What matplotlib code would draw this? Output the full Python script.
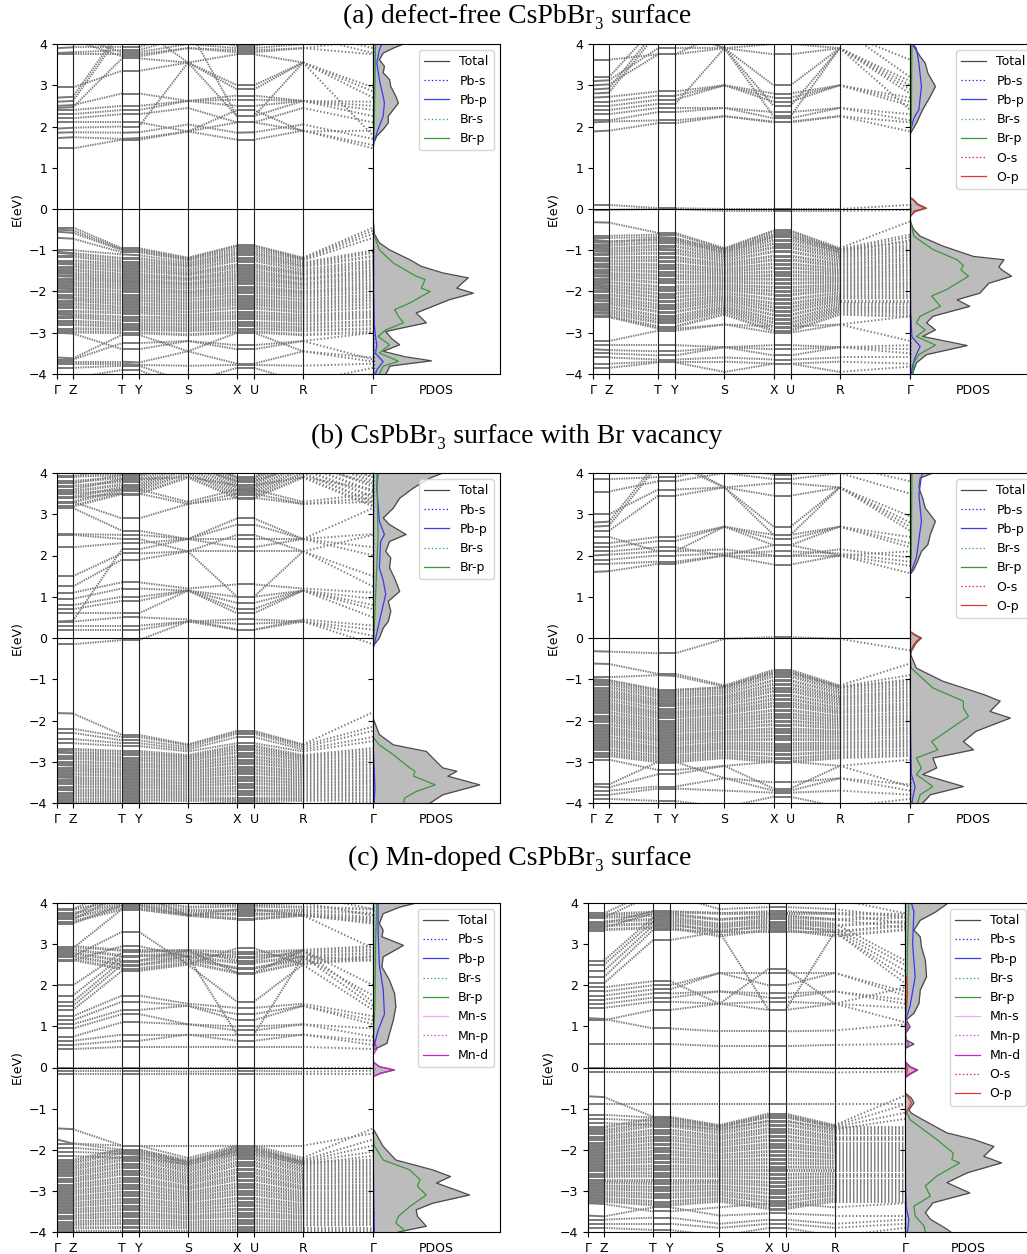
import matplotlib.pyplot as plt
from matplotlib.collections import LineCollection

plt.rcParams['font.family'] = 'DejaVu Sans'
plt.rcParams['axes.linewidth'] = 0.8
plt.rcParams['xtick.labelsize'] = 9
plt.rcParams['ytick.labelsize'] = 9
plt.rcParams['axes.labelsize'] = 9
plt.rcParams['lines.scale_dashes'] = False

klabels = ['Γ', 'Z', 'T', 'Y', 'S', 'X', 'U', 'R', 'Γ']
kdist = [0, 16, 65, 82, 131, 180, 197, 246, 316]

# band energies (eV) at Γ Z T Y S X U R Γ, one row per band
# *_bands: separate bands, *_bulk: the tightly packed manifolds
a1_bands = [
    [1.47, 1.47, 1.68, 1.68, 1.88, 1.68, 1.68, 1.90, 1.47],
    [1.72, 1.74, 1.70, 1.72, 1.88, 2.10, 2.10, 1.90, 1.55],
    [1.85, 1.86, 1.85, 1.86, 2.05, 1.85, 1.86, 2.05, 1.70],
    [1.95, 1.97, 2.00, 2.00, 3.55, 2.25, 2.25, 3.55, 1.78],
    [2.10, 2.10, 2.10, 2.10, 1.88, 2.40, 2.40, 1.88, 1.90],
    [2.20, 2.20, 2.30, 2.30, 2.45, 2.10, 2.10, 2.45, 2.10],
    [2.30, 2.30, 2.40, 2.40, 2.62, 2.50, 2.50, 2.62, 2.25],
    [2.40, 2.40, 2.50, 2.50, 2.62, 2.65, 2.65, 2.62, 2.40],
    [2.50, 2.52, 2.80, 2.80, 2.62, 2.75, 2.75, 2.62, 2.50],
    [2.60, 2.62, 4.30, 4.30, 4.40, 2.25, 2.25, 2.62, 2.60],
    [2.70, 2.72, 4.40, 4.40, 3.55, 2.90, 2.90, 3.55, 2.70],
    [2.95, 2.95, 3.35, 3.35, 3.55, 3.00, 3.00, 3.55, 2.95],
    [2.45, 2.47, 3.65, 3.65, 3.55, 3.75, 3.75, 3.55, 2.85],
    [3.75, 3.75, 3.75, 3.75, 3.90, 3.85, 3.85, 3.90, 3.75],
    [3.78, 3.80, 3.85, 3.85, 4.20, 3.95, 3.95, 4.20, 3.78],
    [3.90, 3.92, 3.92, 3.92, 4.30, 4.10, 4.10, 4.30, 3.90],
    [4.10, 4.10, 3.70, 3.70, 3.90, 3.80, 3.80, 3.90, 4.10],
    [4.20, 4.20, 3.80, 3.80, 4.00, 3.90, 3.90, 4.00, 4.20],
    [-0.45, -0.45, -0.95, -0.95, -1.18, -0.88, -0.88, -1.18, -0.45],
    [-0.50, -0.52, -0.98, -0.98, -1.20, -0.90, -0.90, -1.20, -0.52],
    [-0.55, -0.58, -1.00, -1.02, -1.22, -0.95, -0.95, -1.22, -0.60],
    [-0.70, -0.72, -1.05, -1.05, -1.25, -1.00, -1.00, -1.25, -0.70],
    [-1.00, -1.00, -1.10, -1.12, -1.30, -1.05, -1.05, -1.30, -1.00],
    [-3.00, -3.02, -3.40, -3.40, -3.20, -3.30, -3.30, -3.20, -3.00],
    [-3.60, -3.62, -3.05, -3.05, -3.45, -3.00, -3.00, -3.45, -3.60],
    [-3.65, -3.65, -3.25, -3.25, -3.20, -3.40, -3.40, -3.20, -3.65],
    [-3.70, -3.70, -3.70, -3.72, -3.45, -3.75, -3.75, -3.45, -3.70],
    [-3.75, -3.75, -3.75, -3.78, -3.80, -3.78, -3.78, -3.80, -3.75],
    [-3.85, -3.85, -3.80, -3.80, -4.20, -3.85, -3.85, -4.20, -3.85],
    [-4.10, -4.10, -3.90, -3.90, -4.40, -4.10, -4.10, -4.40, -4.10],
]
a1_bulk = [
    [-1.05, -1.08, -1.20, -1.20, -1.35, -1.10, -1.10, -1.35, -1.05],
    [-1.15, -1.15, -1.28, -1.28, -1.40, -1.18, -1.18, -1.40, -1.15],
    [-1.25, -1.25, -1.35, -1.35, -1.48, -1.25, -1.25, -1.48, -1.25],
    [-1.32, -1.33, -1.42, -1.42, -1.55, -1.35, -1.35, -1.55, -1.32],
    [-1.40, -1.40, -1.50, -1.50, -1.60, -1.42, -1.42, -1.60, -1.40],
    [-1.48, -1.48, -1.58, -1.58, -1.68, -1.50, -1.50, -1.68, -1.48],
    [-1.55, -1.56, -1.65, -1.65, -1.72, -1.58, -1.58, -1.72, -1.55],
    [-1.62, -1.63, -1.72, -1.72, -1.80, -1.65, -1.65, -1.80, -1.62],
    [-1.70, -1.70, -1.78, -1.78, -1.85, -1.72, -1.72, -1.85, -1.70],
    [-1.78, -1.78, -1.85, -1.85, -1.92, -1.80, -1.80, -1.92, -1.78],
    [-1.85, -1.85, -1.92, -1.92, -2.00, -1.88, -1.88, -2.00, -1.85],
    [-1.92, -1.93, -2.00, -2.00, -2.05, -1.95, -1.95, -2.05, -1.92],
    [-2.00, -2.00, -2.08, -2.08, -2.12, -2.02, -2.02, -2.12, -2.00],
    [-2.08, -2.08, -2.15, -2.15, -2.20, -2.10, -2.10, -2.20, -2.08],
    [-2.15, -2.16, -2.22, -2.22, -2.28, -2.18, -2.18, -2.28, -2.15],
    [-2.22, -2.22, -2.30, -2.30, -2.35, -2.25, -2.25, -2.35, -2.22],
    [-2.30, -2.30, -2.38, -2.38, -2.42, -2.32, -2.32, -2.42, -2.30],
    [-2.38, -2.38, -2.45, -2.45, -2.50, -2.40, -2.40, -2.50, -2.38],
    [-2.48, -2.48, -2.52, -2.52, -2.58, -2.50, -2.50, -2.58, -2.48],
    [-2.55, -2.56, -2.62, -2.62, -2.65, -2.58, -2.58, -2.65, -2.55],
    [-2.62, -2.62, -2.70, -2.70, -2.72, -2.65, -2.65, -2.72, -2.62],
    [-2.72, -2.72, -2.78, -2.78, -2.80, -2.75, -2.75, -2.80, -2.72],
    [-2.80, -2.80, -2.85, -2.85, -2.88, -2.82, -2.82, -2.88, -2.80],
    [-2.90, -2.90, -2.92, -2.92, -2.95, -2.90, -2.90, -2.95, -2.90],
    [-2.98, -2.98, -3.00, -3.00, -3.05, -2.98, -2.98, -3.05, -2.98],
]

a2_bands = [
    [1.88, 1.90, 2.08, 2.08, 2.25, 2.10, 2.10, 2.25, 1.88],
    [2.10, 2.12, 2.15, 2.15, 2.25, 2.12, 2.12, 2.25, 2.10],
    [2.15, 2.15, 2.35, 2.35, 2.45, 2.20, 2.20, 2.45, 2.15],
    [2.30, 2.30, 2.45, 2.45, 2.45, 2.35, 2.35, 2.45, 2.30],
    [2.40, 2.40, 2.55, 2.55, 3.90, 2.50, 2.50, 3.90, 2.40],
    [2.50, 2.50, 2.65, 2.65, 3.00, 2.60, 2.60, 3.00, 2.50],
    [2.60, 2.60, 2.75, 2.75, 3.00, 2.70, 2.70, 3.00, 2.60],
    [2.70, 2.72, 2.85, 2.85, 3.00, 2.80, 2.80, 3.00, 2.70],
    [2.80, 2.82, 4.30, 4.30, 3.90, 3.00, 3.00, 3.90, 2.80],
    [2.90, 2.92, 4.40, 4.40, 3.90, 2.25, 2.25, 3.90, 2.90],
    [3.00, 3.02, 3.75, 3.75, 3.90, 3.75, 3.75, 3.90, 3.00],
    [3.10, 3.12, 3.90, 3.90, 3.90, 4.00, 4.00, 3.90, 3.10],
    [3.20, 3.20, 4.50, 4.50, 4.40, 4.30, 4.30, 4.40, 3.20],
    [3.62, 3.62, 3.75, 3.75, 4.30, 4.20, 4.20, 4.30, 3.62],
    [0.10, 0.10, 0.02, 0.02, 0.00, 0.00, 0.00, 0.00, 0.10],
    [-0.02, -0.02, 0.00, 0.00, -0.05, -0.05, -0.05, -0.05, -0.02],
    [-0.32, -0.33, -0.58, -0.58, -0.95, -0.52, -0.52, -0.95, -0.30],
    [-0.65, -0.65, -0.62, -0.62, -0.97, -0.55, -0.55, -0.97, -0.62],
    [-0.70, -0.70, -0.68, -0.70, -1.00, -0.60, -0.60, -1.00, -0.68],
    [-0.75, -0.78, -0.75, -0.75, -1.05, -0.68, -0.68, -1.05, -0.75],
    [-2.60, -2.62, -2.90, -2.90, -2.80, -3.00, -3.00, -2.80, -2.60],
    [-3.20, -3.20, -2.95, -2.95, -2.80, -2.85, -2.85, -2.80, -3.20],
    [-3.30, -3.30, -3.30, -3.30, -3.35, -3.30, -3.30, -3.35, -3.30],
    [-3.40, -3.42, -3.45, -3.45, -3.35, -3.40, -3.40, -3.35, -3.40],
    [-3.50, -3.50, -3.55, -3.55, -3.35, -3.55, -3.55, -3.35, -3.50],
    [-3.60, -3.60, -3.65, -3.65, -3.60, -3.65, -3.65, -3.60, -3.60],
    [-3.75, -3.75, -3.70, -3.70, -3.70, -3.75, -3.75, -3.70, -3.75],
    [-3.85, -3.85, -3.72, -3.72, -3.95, -3.75, -3.75, -3.95, -3.82],
]
a2_bulk = [
    [-0.80, -0.81, -0.72, -0.73, -1.00, -0.65, -0.66, -1.00, -0.80],
    [-0.88, -0.88, -0.81, -0.81, -1.07, -0.75, -0.75, -1.07, -0.88],
    [-0.95, -0.96, -0.90, -0.90, -1.13, -0.84, -0.84, -1.13, -0.95],
    [-1.02, -1.03, -0.98, -0.99, -1.19, -0.93, -0.93, -1.19, -1.02],
    [-1.10, -1.10, -1.07, -1.07, -1.26, -1.03, -1.03, -1.26, -1.10],
    [-1.18, -1.18, -1.17, -1.17, -1.33, -1.14, -1.14, -1.33, -1.18],
    [-1.25, -1.26, -1.25, -1.25, -1.39, -1.23, -1.23, -1.39, -1.25],
    [-1.33, -1.33, -1.35, -1.35, -1.46, -1.33, -1.33, -1.46, -1.33],
    [-1.40, -1.41, -1.43, -1.43, -1.52, -1.42, -1.42, -1.52, -1.40],
    [-1.48, -1.48, -1.52, -1.52, -1.58, -1.52, -1.52, -1.58, -1.48],
    [-1.55, -1.56, -1.61, -1.61, -1.65, -1.61, -1.61, -1.65, -1.55],
    [-1.62, -1.63, -1.69, -1.69, -1.71, -1.70, -1.70, -1.71, -1.62],
    [-1.70, -1.70, -1.78, -1.78, -1.77, -1.80, -1.80, -1.77, -1.70],
    [-1.78, -1.78, -1.88, -1.88, -1.84, -1.90, -1.90, -1.84, -1.78],
    [-1.85, -1.86, -1.96, -1.96, -1.90, -1.99, -1.99, -1.90, -1.85],
    [-1.92, -1.93, -2.05, -2.05, -1.96, -2.08, -2.08, -1.96, -1.92],
    [-2.00, -2.00, -2.14, -2.14, -2.03, -2.19, -2.19, -2.03, -2.00],
    [-2.08, -2.08, -2.23, -2.23, -2.10, -2.29, -2.29, -2.10, -2.08],
    [-2.15, -2.16, -2.32, -2.32, -2.16, -2.38, -2.38, -2.16, -2.15],
    [-2.22, -2.23, -2.40, -2.40, -2.22, -2.47, -2.47, -2.22, -2.22],
    [-2.30, -2.30, -2.49, -2.49, -2.29, -2.57, -2.57, -2.29, -2.30],
    [-2.38, -2.38, -2.59, -2.59, -2.36, -2.67, -2.67, -2.36, -2.38],
    [-2.45, -2.46, -2.67, -2.67, -2.42, -2.76, -2.76, -2.42, -2.45],
    [-2.52, -2.53, -2.75, -2.75, -2.48, -2.85, -2.85, -2.48, -2.52],
    [-2.60, -2.60, -2.85, -2.85, -2.55, -2.95, -2.95, -2.55, -2.60],
]

b1_bands = [
    [-0.15, -0.15, -0.05, -0.05, 0.40, 0.20, 0.20, 0.40, -0.15],
    [0.20, 0.20, 0.20, 0.20, 0.40, 0.35, 0.35, 0.40, 0.05],
    [0.30, 0.30, 0.30, 0.30, 0.40, 0.45, 0.45, 0.40, 0.20],
    [0.40, 0.40, 0.50, 0.50, 0.45, 0.20, 0.20, 0.45, 0.30],
    [0.60, 0.60, 0.60, 0.60, 1.15, 0.60, 0.60, 1.15, 0.50],
    [0.70, 0.70, 0.90, 0.90, 1.15, 0.70, 0.70, 1.15, 0.70],
    [0.80, 0.80, 1.00, 1.00, 1.15, 0.85, 0.85, 1.15, 0.80],
    [0.95, 0.95, 1.20, 1.20, 1.15, 1.00, 1.00, 1.15, 0.95],
    [1.10, 1.10, 1.35, 1.35, 1.20, 1.30, 1.30, 1.20, 1.10],
    [1.25, 1.25, 1.90, 1.90, 2.10, 1.00, 1.00, 2.10, 1.25],
    [1.50, 1.50, 2.05, 2.05, 2.10, 2.10, 2.10, 2.10, 1.50],
    [0.40, 0.42, 2.15, 2.15, 2.40, 2.20, 2.20, 2.40, 2.00],
    [2.20, 2.20, 2.30, 2.30, 2.40, 2.40, 2.40, 2.40, 2.20],
    [2.50, 2.50, 2.40, 2.40, 2.10, 2.50, 2.50, 2.10, 2.50],
    [2.52, 2.52, 2.50, 2.50, 2.40, 2.75, 2.75, 2.40, 2.52],
    [3.15, 3.15, 2.60, 2.60, 2.40, 2.90, 2.90, 2.40, 3.15],
    [3.30, 3.30, 2.90, 2.90, 3.25, 3.40, 3.40, 3.25, 3.30],
    [3.40, 3.40, 3.50, 3.50, 3.25, 3.50, 3.50, 3.25, 3.40],
    [3.50, 3.50, 3.60, 3.60, 3.30, 3.60, 3.60, 3.30, 3.50],
    [3.60, 3.60, 3.85, 3.85, 3.90, 3.70, 3.70, 3.90, 3.60],
    [3.75, 3.75, 3.95, 3.95, 4.20, 3.80, 3.80, 4.20, 3.75],
    [3.90, 3.90, 4.20, 4.20, 4.30, 3.90, 3.90, 4.30, 3.90],
    [-1.82, -1.83, -2.35, -2.35, -2.58, -2.25, -2.25, -2.58, -1.80],
    [-2.20, -2.20, -2.40, -2.40, -2.60, -2.28, -2.28, -2.60, -2.15],
    [-2.30, -2.30, -2.48, -2.48, -2.65, -2.32, -2.32, -2.65, -2.25],
    [-2.45, -2.45, -2.55, -2.55, -2.70, -2.40, -2.40, -2.70, -2.40],
    [-2.55, -2.55, -2.62, -2.62, -2.75, -2.55, -2.55, -2.75, -2.50],
]
b1_bulk = [
    [3.20, 3.20, 3.50, 3.50, 3.90, 3.40, 3.40, 3.90, 3.20],
    [3.30, 3.30, 3.58, 3.58, 4.00, 3.48, 3.48, 4.00, 3.30],
    [3.42, 3.42, 3.65, 3.65, 4.10, 3.56, 3.56, 4.10, 3.42],
    [3.55, 3.55, 3.72, 3.72, 4.20, 3.64, 3.64, 4.20, 3.55],
    [3.68, 3.68, 3.80, 3.80, 4.30, 3.72, 3.72, 4.30, 3.68],
    [3.80, 3.80, 3.88, 3.88, 4.40, 3.80, 3.80, 4.40, 3.80],
    [3.92, 3.92, 3.96, 3.96, 4.50, 3.88, 3.88, 4.50, 3.92],
    [-2.70, -2.70, -2.75, -2.75, -2.85, -2.62, -2.62, -2.85, -2.68],
    [-2.77, -2.78, -2.82, -2.82, -2.90, -2.70, -2.70, -2.90, -2.76],
    [-2.85, -2.85, -2.90, -2.90, -2.96, -2.78, -2.78, -2.96, -2.84],
    [-2.92, -2.92, -2.97, -2.97, -3.03, -2.87, -2.87, -3.03, -2.92],
    [-3.00, -3.00, -3.05, -3.05, -3.10, -2.95, -2.95, -3.10, -3.00],
    [-3.07, -3.08, -3.12, -3.12, -3.17, -3.03, -3.03, -3.17, -3.07],
    [-3.15, -3.15, -3.20, -3.20, -3.24, -3.12, -3.12, -3.24, -3.15],
    [-3.22, -3.22, -3.27, -3.27, -3.31, -3.20, -3.20, -3.31, -3.22],
    [-3.30, -3.30, -3.34, -3.34, -3.38, -3.28, -3.28, -3.38, -3.30],
    [-3.37, -3.38, -3.42, -3.42, -3.45, -3.37, -3.37, -3.45, -3.37],
    [-3.45, -3.45, -3.49, -3.49, -3.52, -3.45, -3.45, -3.52, -3.45],
    [-3.52, -3.52, -3.56, -3.56, -3.59, -3.53, -3.53, -3.59, -3.52],
    [-3.60, -3.60, -3.63, -3.63, -3.66, -3.62, -3.62, -3.66, -3.60],
    [-3.67, -3.68, -3.71, -3.71, -3.73, -3.70, -3.70, -3.73, -3.67],
    [-3.75, -3.75, -3.78, -3.78, -3.80, -3.78, -3.78, -3.80, -3.75],
    [-3.82, -3.82, -3.85, -3.85, -3.87, -3.88, -3.88, -3.87, -3.82],
    [-3.90, -3.90, -3.92, -3.92, -3.94, -3.92, -3.92, -3.94, -3.90],
    [-3.97, -3.97, -3.99, -3.99, -4.05, -3.97, -3.97, -4.05, -3.97],
]

b2_bands = [
    [1.60, 1.62, 1.80, 1.80, 2.00, 1.78, 1.78, 2.00, 1.57],
    [1.80, 1.80, 1.85, 1.85, 2.00, 2.00, 2.00, 2.00, 1.75],
    [1.90, 1.90, 2.00, 2.00, 2.05, 2.10, 2.10, 2.05, 1.85],
    [2.00, 2.02, 2.10, 2.10, 2.15, 2.00, 2.00, 2.15, 1.95],
    [2.10, 2.10, 2.20, 2.20, 2.00, 2.25, 2.25, 2.00, 2.10],
    [2.20, 2.20, 2.35, 2.35, 2.70, 2.40, 2.40, 2.70, 2.20],
    [2.30, 2.30, 2.45, 2.45, 2.70, 2.50, 2.50, 2.70, 2.30],
    [2.45, 2.45, 2.10, 2.10, 2.70, 2.25, 2.25, 2.70, 2.45],
    [2.60, 2.60, 3.45, 3.45, 3.65, 2.70, 2.70, 3.65, 2.60],
    [2.70, 2.72, 4.20, 4.20, 3.65, 2.50, 2.50, 3.65, 2.70],
    [2.80, 2.82, 4.30, 4.30, 3.65, 3.45, 3.45, 3.65, 2.80],
    [3.00, 3.00, 3.60, 3.60, 3.65, 3.75, 3.75, 3.65, 2.95],
    [3.55, 3.55, 3.80, 3.80, 4.00, 3.85, 3.85, 4.00, 3.50],
    [3.85, 3.85, 3.90, 3.90, 4.20, 3.95, 3.95, 4.20, 3.80],
    [-0.32, -0.33, -0.37, -0.37, -0.02, 0.02, 0.02, -0.02, -0.30],
    [-0.62, -0.63, -0.87, -0.87, -1.15, -0.77, -0.77, -1.15, -0.62],
    [-0.95, -0.95, -0.90, -0.92, -1.18, -0.80, -0.80, -1.18, -0.90],
    [-1.00, -1.02, -1.25, -1.25, -1.20, -0.85, -0.85, -1.20, -1.00],
    [-2.95, -2.95, -3.20, -3.20, -3.10, -3.00, -3.00, -3.10, -2.95],
    [-3.55, -3.55, -3.00, -3.00, -3.40, -3.50, -3.50, -3.40, -3.55],
    [-3.60, -3.62, -3.30, -3.30, -3.10, -3.65, -3.65, -3.10, -3.60],
    [-3.70, -3.70, -3.60, -3.60, -3.40, -3.70, -3.70, -3.40, -3.70],
    [-3.80, -3.80, -3.65, -3.65, -3.70, -3.75, -3.75, -3.70, -3.80],
    [-3.90, -3.90, -3.95, -3.95, -4.10, -3.85, -3.85, -4.10, -3.90],
]
b2_bulk = [
    [-1.05, -1.05, -1.28, -1.28, -1.20, -0.85, -0.85, -1.20, -1.05],
    [-1.12, -1.12, -1.35, -1.35, -1.27, -0.93, -0.93, -1.27, -1.12],
    [-1.20, -1.20, -1.42, -1.42, -1.34, -1.03, -1.03, -1.34, -1.20],
    [-1.28, -1.28, -1.50, -1.50, -1.42, -1.12, -1.12, -1.42, -1.28],
    [-1.35, -1.35, -1.57, -1.57, -1.48, -1.21, -1.21, -1.48, -1.35],
    [-1.42, -1.42, -1.63, -1.63, -1.55, -1.29, -1.29, -1.55, -1.42],
    [-1.50, -1.50, -1.71, -1.71, -1.62, -1.39, -1.39, -1.62, -1.50],
    [-1.58, -1.58, -1.79, -1.79, -1.70, -1.48, -1.48, -1.70, -1.58],
    [-1.65, -1.65, -1.85, -1.85, -1.77, -1.57, -1.57, -1.77, -1.65],
    [-1.72, -1.72, -1.92, -1.92, -1.83, -1.65, -1.65, -1.83, -1.72],
    [-1.80, -1.80, -2.00, -2.00, -1.91, -1.75, -1.75, -1.91, -1.80],
    [-1.88, -1.88, -2.07, -2.07, -1.98, -1.84, -1.84, -1.98, -1.88],
    [-1.95, -1.95, -2.14, -2.14, -2.05, -1.92, -1.92, -2.05, -1.95],
    [-2.02, -2.02, -2.21, -2.21, -2.12, -2.01, -2.01, -2.12, -2.02],
    [-2.10, -2.10, -2.28, -2.28, -2.19, -2.10, -2.10, -2.19, -2.10],
    [-2.18, -2.18, -2.36, -2.36, -2.27, -2.20, -2.20, -2.27, -2.18],
    [-2.25, -2.25, -2.43, -2.43, -2.33, -2.28, -2.28, -2.33, -2.25],
    [-2.32, -2.32, -2.49, -2.49, -2.40, -2.37, -2.37, -2.40, -2.32],
    [-2.40, -2.40, -2.57, -2.57, -2.47, -2.46, -2.46, -2.47, -2.40],
    [-2.48, -2.48, -2.65, -2.65, -2.55, -2.56, -2.56, -2.55, -2.48],
    [-2.55, -2.55, -2.71, -2.71, -2.62, -2.64, -2.64, -2.62, -2.55],
    [-2.62, -2.62, -2.78, -2.78, -2.68, -2.72, -2.72, -2.68, -2.62],
    [-2.70, -2.70, -2.86, -2.86, -2.76, -2.82, -2.82, -2.76, -2.70],
    [-2.78, -2.78, -2.93, -2.93, -2.83, -2.92, -2.92, -2.83, -2.78],
    [-2.85, -2.85, -3.00, -3.00, -2.90, -3.00, -3.00, -2.90, -2.85],
]

c1_bands = [
    [0.45, 0.45, 0.50, 0.50, 0.50, 0.50, 0.50, 0.50, 0.45],
    [0.55, 0.55, 0.65, 0.65, 0.80, 0.65, 0.65, 0.80, 0.55],
    [0.65, 0.65, 0.80, 0.80, 0.80, 0.80, 0.80, 0.80, 0.65],
    [0.75, 0.75, 1.10, 1.10, 1.05, 0.90, 0.90, 1.05, 0.75],
    [0.95, 0.95, 1.30, 1.30, 1.05, 1.00, 1.00, 1.05, 0.95],
    [1.05, 1.05, 1.40, 1.40, 1.50, 1.15, 1.15, 1.50, 1.05],
    [1.15, 1.15, 1.60, 1.60, 1.50, 1.30, 1.30, 1.50, 1.15],
    [1.25, 1.25, 1.75, 1.75, 1.55, 1.45, 1.45, 1.55, 1.25],
    [1.40, 1.40, 2.35, 2.35, 2.50, 1.60, 1.60, 2.50, 1.40],
    [1.50, 1.50, 2.50, 2.50, 2.70, 0.80, 0.80, 2.70, 1.50],
    [1.60, 1.60, 2.60, 2.60, 2.85, 2.30, 2.30, 2.85, 1.60],
    [1.75, 1.75, 2.70, 2.70, 2.70, 2.40, 2.40, 2.70, 1.75],
    [2.00, 2.00, 2.80, 2.80, 2.85, 2.60, 2.60, 2.85, 2.00],
    [2.60, 2.60, 2.95, 2.95, 2.70, 2.75, 2.75, 2.70, 2.60],
    [2.70, 2.70, 3.30, 3.30, 2.50, 2.90, 2.90, 2.50, 2.70],
    [2.90, 2.90, 3.85, 3.85, 3.70, 3.60, 3.60, 3.70, 2.90],
    [3.50, 3.50, 3.95, 3.95, 3.70, 3.75, 3.75, 3.70, 3.50],
    [3.60, 3.60, 4.20, 4.20, 3.70, 3.85, 3.85, 3.70, 3.60],
    [3.70, 3.70, 4.30, 4.30, 4.00, 3.95, 3.95, 4.00, 3.70],
    [3.85, 3.85, 4.40, 4.40, 4.20, 4.10, 4.10, 4.20, 3.85],
    [0.00, 0.00, 0.00, 0.00, 0.00, 0.00, 0.00, 0.00, 0.00],
    [-0.08, -0.08, -0.08, -0.08, -0.10, -0.08, -0.08, -0.10, -0.08],
    [-0.15, -0.15, -0.15, -0.15, -0.15, -0.15, -0.15, -0.15, -0.15],
    [-1.48, -1.50, -1.90, -1.90, -2.20, -1.90, -1.90, -2.20, -1.48],
    [-1.75, -1.85, -1.90, -1.90, -1.90, -1.90, -1.90, -1.90, -1.60],
    [-1.85, -1.85, -2.00, -2.00, -2.25, -1.95, -1.95, -2.25, -1.75],
    [-1.95, -1.95, -2.05, -2.05, -2.28, -2.00, -2.00, -2.28, -1.90],
    [-2.05, -2.05, -2.10, -2.12, -2.30, -2.05, -2.05, -2.30, -2.05],
    [-2.15, -2.15, -2.20, -2.20, -2.35, -2.10, -2.10, -2.35, -2.15],
]
c1_bulk = [
    [2.62, 2.62, 2.40, 2.40, 2.55, 2.30, 2.30, 2.55, 2.62],
    [2.70, 2.70, 2.50, 2.50, 2.62, 2.42, 2.42, 2.62, 2.70],
    [2.78, 2.78, 2.60, 2.60, 2.70, 2.55, 2.55, 2.70, 2.78],
    [2.86, 2.86, 2.72, 2.72, 2.78, 2.68, 2.68, 2.78, 2.86],
    [2.94, 2.94, 2.85, 2.85, 2.85, 2.80, 2.80, 2.85, 2.94],
    [3.55, 3.55, 3.85, 3.85, 3.70, 3.62, 3.62, 3.70, 3.55],
    [3.65, 3.65, 3.92, 3.92, 3.75, 3.72, 3.72, 3.75, 3.65],
    [3.75, 3.75, 3.98, 3.98, 3.82, 3.82, 3.82, 3.82, 3.75],
    [3.85, 3.85, 4.05, 4.05, 3.90, 3.92, 3.92, 3.90, 3.85],
    [-2.25, -2.25, -2.00, -2.00, -2.32, -1.95, -1.95, -2.32, -2.25],
    [-2.32, -2.32, -2.08, -2.08, -2.39, -2.03, -2.03, -2.39, -2.32],
    [-2.40, -2.40, -2.17, -2.17, -2.46, -2.13, -2.13, -2.46, -2.40],
    [-2.47, -2.47, -2.25, -2.25, -2.53, -2.21, -2.21, -2.53, -2.47],
    [-2.55, -2.55, -2.34, -2.34, -2.61, -2.30, -2.30, -2.61, -2.55],
    [-2.62, -2.62, -2.42, -2.42, -2.68, -2.38, -2.38, -2.68, -2.62],
    [-2.70, -2.70, -2.51, -2.51, -2.75, -2.48, -2.48, -2.75, -2.70],
    [-2.77, -2.77, -2.59, -2.59, -2.82, -2.56, -2.56, -2.82, -2.77],
    [-2.85, -2.85, -2.69, -2.69, -2.90, -2.65, -2.65, -2.90, -2.85],
    [-2.92, -2.92, -2.77, -2.77, -2.96, -2.73, -2.73, -2.96, -2.92],
    [-3.00, -3.00, -2.86, -2.86, -3.04, -2.83, -2.83, -3.04, -3.00],
    [-3.07, -3.07, -2.94, -2.94, -3.11, -2.91, -2.91, -3.11, -3.07],
    [-3.15, -3.15, -3.03, -3.03, -3.18, -3.00, -3.00, -3.18, -3.15],
    [-3.22, -3.22, -3.11, -3.11, -3.25, -3.08, -3.08, -3.25, -3.22],
    [-3.30, -3.30, -3.20, -3.20, -3.33, -3.18, -3.18, -3.33, -3.30],
    [-3.37, -3.37, -3.28, -3.28, -3.40, -3.26, -3.26, -3.40, -3.37],
    [-3.45, -3.45, -3.37, -3.37, -3.47, -3.35, -3.35, -3.47, -3.45],
    [-3.52, -3.52, -3.45, -3.45, -3.54, -3.44, -3.44, -3.54, -3.52],
    [-3.60, -3.60, -3.54, -3.54, -3.62, -3.53, -3.53, -3.62, -3.60],
    [-3.67, -3.67, -3.62, -3.62, -3.68, -3.61, -3.61, -3.68, -3.67],
    [-3.75, -3.75, -3.71, -3.71, -3.76, -3.71, -3.71, -3.76, -3.75],
    [-3.82, -3.82, -3.79, -3.79, -3.83, -3.79, -3.79, -3.83, -3.82],
    [-3.90, -3.90, -3.89, -3.89, -3.90, -3.88, -3.88, -3.90, -3.90],
    [-3.97, -3.97, -3.97, -3.97, -3.97, -3.96, -3.96, -3.97, -3.97],
]

c2_bands = [
    [1.15, 1.15, 1.40, 1.40, 1.55, 1.40, 1.40, 1.55, 1.10],
    [1.20, 1.18, 0.95, 0.95, 0.88, 0.88, 0.88, 0.90, 1.05],
    [1.45, 1.45, 1.60, 1.60, 1.55, 1.60, 1.60, 1.55, 1.45],
    [1.55, 1.55, 1.70, 1.70, 1.85, 1.70, 1.70, 1.85, 1.55],
    [1.65, 1.65, 1.80, 1.80, 1.85, 1.80, 1.80, 1.85, 1.65],
    [1.75, 1.75, 1.90, 1.90, 2.30, 2.00, 2.00, 2.30, 1.75],
    [1.85, 1.85, 2.00, 2.00, 2.30, 2.30, 2.30, 2.30, 1.85],
    [1.95, 1.95, 2.10, 2.10, 1.55, 2.40, 2.40, 1.55, 1.95],
    [2.05, 2.05, 3.10, 3.10, 3.30, 1.40, 1.40, 3.30, 2.05],
    [2.20, 2.20, 3.35, 3.35, 3.30, 3.30, 3.30, 3.30, 2.20],
    [2.35, 2.35, 3.45, 3.45, 3.35, 3.40, 3.40, 3.35, 2.35],
    [2.50, 2.50, 3.55, 3.55, 3.40, 3.50, 3.50, 3.40, 2.50],
    [2.60, 2.60, 3.65, 3.65, 3.50, 3.60, 3.60, 3.50, 2.60],
    [3.40, 3.40, 3.75, 3.75, 3.60, 3.70, 3.70, 3.60, 3.40],
    [3.50, 3.50, 3.80, 3.80, 3.75, 3.80, 3.80, 3.75, 3.50],
    [3.65, 3.65, 4.20, 4.20, 3.85, 3.90, 3.90, 3.85, 3.65],
    [3.75, 3.75, 4.30, 4.30, 4.10, 4.00, 4.00, 4.10, 3.75],
    [0.57, 0.57, 0.57, 0.57, 0.52, 0.52, 0.52, 0.55, 0.57],
    [0.00, 0.00, 0.00, 0.00, 0.00, 0.00, 0.00, 0.00, 0.00],
    [-0.10, -0.10, -0.10, -0.10, -0.12, -0.10, -0.10, -0.12, -0.10],
    [-0.70, -0.72, -1.20, -1.20, -1.40, -1.12, -1.12, -1.40, -0.68],
    [-0.88, -0.88, -0.88, -0.88, -0.88, -0.88, -0.88, -0.88, -0.88],
    [-1.15, -1.15, -1.22, -1.22, -1.42, -1.15, -1.15, -1.42, -0.90],
    [-1.25, -1.25, -1.30, -1.30, -1.45, -1.20, -1.20, -1.45, -1.10],
    [-1.35, -1.35, -1.40, -1.40, -1.50, -1.30, -1.30, -1.50, -1.25],
    [-3.30, -3.32, -3.50, -3.50, -3.40, -3.30, -3.30, -3.40, -3.30],
    [-3.60, -3.62, -3.40, -3.40, -3.60, -3.55, -3.55, -3.60, -3.60],
    [-3.70, -3.70, -3.65, -3.65, -3.80, -3.70, -3.70, -3.80, -3.70],
    [-3.80, -3.80, -3.80, -3.80, -3.90, -3.80, -3.80, -3.90, -3.80],
    [-3.90, -3.90, -3.95, -3.95, -4.10, -3.90, -3.90, -4.10, -3.90],
]
c2_bulk = [
    [3.35, 3.35, 3.40, 3.40, 3.20, 3.35, 3.35, 3.20, 3.35],
    [3.45, 3.45, 3.50, 3.50, 3.30, 3.45, 3.45, 3.30, 3.45],
    [3.55, 3.55, 3.60, 3.60, 3.45, 3.55, 3.55, 3.45, 3.55],
    [3.65, 3.65, 3.70, 3.70, 3.60, 3.65, 3.65, 3.60, 3.65],
    [3.72, 3.72, 3.78, 3.78, 3.75, 3.75, 3.75, 3.75, 3.72],
    [-1.45, -1.45, -1.25, -1.25, -1.45, -1.20, -1.20, -1.45, -1.45],
    [-1.53, -1.53, -1.34, -1.34, -1.53, -1.30, -1.30, -1.53, -1.53],
    [-1.60, -1.60, -1.42, -1.42, -1.60, -1.39, -1.39, -1.60, -1.60],
    [-1.68, -1.68, -1.52, -1.52, -1.68, -1.49, -1.49, -1.68, -1.68],
    [-1.75, -1.75, -1.60, -1.60, -1.75, -1.57, -1.57, -1.75, -1.75],
    [-1.83, -1.83, -1.69, -1.69, -1.83, -1.67, -1.67, -1.83, -1.83],
    [-1.90, -1.90, -1.77, -1.77, -1.90, -1.76, -1.76, -1.90, -1.90],
    [-1.98, -1.98, -1.86, -1.86, -1.98, -1.86, -1.86, -1.98, -1.98],
    [-2.05, -2.05, -1.95, -1.95, -2.05, -1.94, -1.94, -2.05, -2.05],
    [-2.13, -2.13, -2.04, -2.04, -2.13, -2.04, -2.04, -2.13, -2.13],
    [-2.20, -2.20, -2.12, -2.12, -2.20, -2.13, -2.13, -2.20, -2.20],
    [-2.28, -2.28, -2.21, -2.21, -2.28, -2.23, -2.23, -2.28, -2.28],
    [-2.35, -2.35, -2.29, -2.29, -2.35, -2.32, -2.32, -2.35, -2.35],
    [-2.43, -2.43, -2.39, -2.39, -2.43, -2.42, -2.42, -2.43, -2.43],
    [-2.50, -2.50, -2.47, -2.47, -2.50, -2.50, -2.50, -2.50, -2.50],
    [-2.58, -2.58, -2.56, -2.56, -2.58, -2.60, -2.60, -2.58, -2.58],
    [-2.65, -2.65, -2.64, -2.64, -2.65, -2.69, -2.69, -2.65, -2.65],
    [-2.73, -2.73, -2.73, -2.73, -2.73, -2.79, -2.79, -2.73, -2.73],
    [-2.80, -2.80, -2.82, -2.82, -2.80, -2.87, -2.87, -2.80, -2.80],
    [-2.88, -2.88, -2.91, -2.91, -2.88, -2.97, -2.97, -2.88, -2.88],
    [-2.95, -2.95, -2.99, -2.99, -2.95, -3.06, -3.06, -2.95, -2.95],
    [-3.03, -3.03, -3.08, -3.08, -3.03, -3.16, -3.16, -3.03, -3.03],
    [-3.10, -3.10, -3.16, -3.16, -3.10, -3.25, -3.25, -3.10, -3.10],
    [-3.18, -3.18, -3.26, -3.26, -3.18, -3.35, -3.35, -3.18, -3.18],
    [-3.25, -3.25, -3.34, -3.34, -3.25, -3.43, -3.43, -3.25, -3.25],
]

# PDOS (percent of panel width) against energy (eV)
a1_tot_e = [4.0, 3.90, 3.78, 3.62, 3.46, 3.30, 3.14, 2.97, 2.73, 2.57, 2.41, 2.25, 2.09, 1.93, 1.77,
            1.60, 1.50, 1.45, -0.20, -0.30, -0.60, -0.82, -0.99, -1.23, -1.39, -1.55, -1.67, -1.80,
            -1.92, -2.04, -2.20, -2.36, -2.52, -2.64, -2.76, -2.87, -2.97, -3.15, -3.29, -3.45,
            -3.58, -3.68, -3.81, -3.90, -4.0]
a1_tot = [24, 16, 8, 5, 9, 8, 13, 14, 18, 20, 16, 12, 12, 8, 3, 0.5, 0, 0, 0, 0.3, 1, 5, 13, 29, 38,
          55, 75, 70, 66, 79, 60, 47, 34, 38, 42, 25, 10, 15, 21, 8, 25, 46, 13, 12, 10]
a1_brp_e = [4.0, 3.0, 2.0, 1.55, 1.45, -0.40, -0.60, -0.99, -1.31, -1.63, -1.71, -1.92, -2.00, -2.28,
            -2.44, -2.60, -2.76, -2.93, -3.09, -3.29, -3.49, -3.69, -3.81, -4.0]
a1_brp = [2, 1.5, 1, 0.5, 0, 0, 0.5, 5, 16, 34, 41, 38, 45, 29, 17, 20, 24, 10, 4, 13, 5, 20, 8, 5]
a1_pbp_e = [4.0, 3.86, 3.54, 3.14, 2.73, 2.57, 2.25, 1.93, 1.60, 1.45, -0.40, -1.00, -2.00, -2.80,
            -3.10, -3.30, -3.50, -3.70, -3.90, -4.0]
a1_pbp = [7, 5, 3, 5, 8, 9, 8, 4, 0.5, 0, 0, 0.5, 0.5, 1, 2, 3, 2, 8, 3, 2]
a1_pbs_e = [4.0, 2.0, 1.5, -0.4, -2.0, -3.3, -3.7, -4.0]
a1_pbs = [0.8, 0.5, 0, 0, 0.4, 0.8, 1.2, 0.8]
a1_brs_e = [4.0, 2.0, 1.5, -0.4, -2.0, -3.7, -4.0]
a1_brs = [0.5, 0.3, 0, 0, 0.2, 0.4, 0.3]

a2_tot_e = [4.0, 3.94, 3.70, 3.54, 3.30, 2.97, 2.73, 2.41, 2.08, 1.84, 1.80, 0.28, 0.22, 0.12, 0.02,
            -0.06, -0.12, -0.18, -0.30, -0.50, -0.66, -0.90, -1.15, -1.23, -1.40, -1.47, -1.63,
            -1.80, -2.04, -2.20, -2.36, -2.60, -2.76, -2.93, -3.09, -3.31, -3.53, -3.73, -3.90, -4.0]
a2_tot = [1, 3, 8, 12, 14, 20, 16, 10, 5, 0.5, 0, 0, 3, 6, 13, 4, 2, 0, 0, 3, 8, 26, 50, 74, 70, 72,
          80, 62, 55, 37, 47, 18, 13, 20, 10, 45, 13, 5, 3, 2]
a2_brp_e = [4.0, 2.0, 1.84, 0.2, 0.0, -0.2, -0.66, -0.98, -1.23, -1.37, -1.47, -1.63, -1.95, -2.11,
            -2.36, -2.60, -2.76, -2.93, -3.09, -3.30, -3.53, -3.73, -4.0]
a2_brp = [1.5, 1, 0, 0, 1, 0, 3, 18, 37, 42, 40, 46, 29, 17, 24, 8, 5, 12, 5, 20, 7, 3, 2]
a2_pbp_e = [4.0, 3.9, 3.54, 2.97, 2.41, 2.2, 1.84, 0.5, -0.5, -2.5, -3.1, -3.33, -3.6, -3.8, -4.0]
a2_pbp = [2, 5, 7, 9, 7, 3, 0, 0, 0, 0.5, 1.5, 8, 4, 2, 1]
a2_pbs_e = [4.0, 2.5, 1.84, -0.4, -2.0, -3.3, -4.0]
a2_pbs = [0.5, 0.5, 0, 0, 0.3, 0.8, 0.5]
a2_brs_e = [4.0, 2.0, 1.84, -0.4, -2.0, -3.5, -4.0]
a2_brs = [0.4, 0.3, 0, 0, 0.2, 0.4, 0.3]
a2_os_e = [0.28, 0.02, -0.2]
a2_os = [0, 0.8, 0]
a2_op_e = [0.28, 0.2, 0.1, 0.02, -0.05, -0.12, -0.2]
a2_op = [0, 3, 6, 12, 3, 2, 0]

b1_tot_e = [4.0, 3.88, 3.64, 3.39, 3.15, 2.91, 2.75, 2.51, 2.34, 2.10, 1.94, 1.70, 1.45, 1.13, 0.89,
            0.65, 0.40, 0.24, 0.00, -0.16, -0.24, -1.94, -2.34, -2.59, -2.75, -3.00, -3.15, -3.23,
            -3.35, -3.56, -3.80, -4.0]
b1_tot = [55, 45, 32, 21, 16, 8, 13, 26, 13, 10, 14, 13, 17, 21, 12, 14, 12, 8, 5, 1, 0, 0, 5, 16,
          42, 50, 55, 66, 59, 84, 55, 45]
b1_brp_e = [4.0, 2.5, 1.0, -0.16, -0.24, -2.40, -2.59, -2.83, -3.15, -3.23, -3.35, -3.56, -3.72,
            -3.88, -4.0]
b1_brp = [3, 4, 2, 0.5, 0, 0, 5, 16, 29, 33, 32, 49, 34, 25, 24]
b1_pbp_e = [4.0, 3.64, 2.83, 2.51, 2.34, 1.70, 1.40, 1.06, 0.40, -0.16, -0.24, -2.5, -3.6, -4.0]
b1_pbp = [4, 3, 5, 9, 6, 5, 8, 10, 5, 1, 0, 0, 1.5, 1]
b1_pbs_e = [4.0, 1.0, -0.2, -2.4, -3.6, -4.0]
b1_pbs = [0.6, 0.4, 0, 0, 0.8, 0.6]
b1_brs_e = [4.0, 1.0, -0.2, -2.4, -3.6, -4.0]
b1_brs = [0.4, 0.3, 0, 0, 0.4, 0.3]

b2_tot_e = [4.0, 3.88, 3.64, 3.39, 3.15, 2.83, 2.51, 2.26, 2.10, 1.86, 1.66, 1.54, 0.16, 0.08, 0.0,
            -0.08, -0.16, -0.32, -0.40, -0.73, -1.05, -1.37, -1.53, -1.78, -1.94, -2.26, -2.51,
            -2.71, -2.91, -3.15, -3.31, -3.60, -3.80, -4.0]
b2_tot = [18, 8, 7, 10, 12, 20, 16, 14, 9, 6, 3, 0, 0, 4, 9, 6, 4, 1, 0.5, 5, 26, 58, 71, 63, 79,
          52, 42, 50, 18, 21, 10, 42, 16, 10]
b2_brp_e = [4.0, 2.0, 1.54, -0.40, -0.73, -1.21, -1.53, -1.70, -1.90, -2.26, -2.51, -2.71, -2.91,
            -3.15, -3.31, -3.60, -3.80, -4.0]
b2_brp = [1.5, 1, 0, 0, 1, 18, 42, 42, 46, 29, 17, 22, 5, 9, 5, 18, 8, 6]
b2_pbp_e = [4.0, 3.92, 3.47, 2.83, 1.94, 1.54, 0.0, -0.5, -2.5, -3.3, -3.6, -3.9, -4.0]
b2_pbp = [10, 9, 7, 9, 5, 0, 0, 0, 0.5, 1, 4, 2, 1.5]
b2_pbs_e = [4.0, 2.0, 1.54, -0.4, -2.0, -3.6, -4.0]
b2_pbs = [0.6, 0.4, 0, 0, 0.3, 0.8, 0.5]
b2_brs_e = [4.0, 2.0, 1.54, -0.4, -2.0, -3.6, -4.0]
b2_brs = [0.4, 0.3, 0, 0, 0.2, 0.4, 0.3]
b2_os_e = [0.16, 0.0, -0.32]
b2_os = [0, 0.8, 0]
b2_op_e = [0.16, 0.08, 0.0, -0.08, -0.16, -0.32]
b2_op = [0, 3, 8, 5, 3, 0]

c1_tot_e = [4.0, 3.90, 3.74, 3.50, 3.34, 3.18, 2.97, 2.69, 2.45, 2.12, 1.80, 1.48, 1.15, 0.83, 0.59,
            0.50, 0.42, 0.14, 0.02, -0.06, -0.14, -0.22, -1.48, -1.92, -2.25, -2.49, -2.65, -2.81,
            -3.10, -3.30, -3.46, -3.62, -3.86, -4.0]
c1_tot = [34, 21, 8, 5, 8, 7, 24, 8, 7, 13, 17, 18, 16, 13, 11, 5, 0, 0, 5, 17, 6, 0, 0, 8, 18, 47,
          61, 50, 76, 47, 34, 35, 42, 20]
c1_brp_e = [4.0, 3.0, 1.5, 0.42, 0.1, -0.06, -0.2, -1.6, -1.9, -2.25, -2.49, -2.73, -2.89, -3.10,
            -3.38, -3.62, -3.78, -3.94, -4.0]
c1_brp = [3, 2, 1.5, 0, 0, 1, 0, 0, 1, 8, 29, 37, 35, 42, 29, 20, 18, 24, 23]
c1_pbp_e = [4.0, 3.3, 2.5, 1.9, 1.3, 0.9, 0.42, 0.0, -1.6, -3.0, -4.0]
c1_pbp = [4, 4, 5, 8, 9, 4, 0, 0, 0, 0.5, 1]
c1_pbs_e = [4.0, 1.0, 0.4, -1.6, -3.0, -4.0]
c1_pbs = [0.6, 0.4, 0, 0, 0.4, 0.6]
c1_brs_e = [4.0, 1.0, 0.4, -1.6, -3.0, -4.0]
c1_brs = [0.4, 0.3, 0, 0, 0.3, 0.4]
c1_mns_e = [0.14, -0.06, -0.22]
c1_mns = [0, 1, 0]
c1_mnp_e = [0.14, -0.06, -0.22]
c1_mnp = [0, 2, 0]
c1_mnd_e = [0.75, 0.55, 0.45, 0.30, 0.14, 0.02, -0.06, -0.14, -0.22]
c1_mnd = [0, 2, 3, 0, 0, 5, 16, 6, 0]

c2_tot_e = [4.0, 3.78, 3.58, 3.34, 3.18, 2.93, 2.61, 2.21, 1.88, 1.56, 1.32, 1.16, 0.99, 0.83, 0.67,
            0.57, 0.47, 0.34, 0.15, 0.02, -0.06, -0.18, -0.26, -0.62, -0.74, -0.86, -1.03, -1.11,
            -1.27, -1.59, -1.75, -1.92, -2.16, -2.32, -2.56, -2.80, -3.05, -3.29, -3.53, -3.69,
            -3.93, -4.0]
c2_tot = [34, 24, 12, 7, 12, 13, 16, 17, 12, 11, 7, 1, 4, 0.5, 1, 7, 0.5, 0, 0, 4, 10, 3, 0, 0, 5, 7,
          3, 5, 14, 33, 54, 70, 62, 76, 49, 33, 51, 22, 16, 20, 33, 36]
c2_brp_e = [4.0, 3.0, 1.5, 1.1, 0.1, -0.06, -0.2, -1.0, -1.27, -1.75, -2.08, -2.24, -2.32, -2.64,
            -2.88, -3.13, -3.37, -3.61, -3.85, -4.0]
c2_brp = [3, 2, 1.5, 0, 0, 1, 0, 0, 4, 25, 38, 37, 43, 25, 16, 20, 7, 8, 15, 16]
c2_pbp_e = [4.0, 3.8, 3.0, 2.2, 1.5, 1.1, 0.5, -1.0, -3.0, -3.4, -3.7, -4.0]
c2_pbp = [5, 7, 6, 8, 4, 0, 0, 0, 0.5, 1, 3, 2]
c2_pbs_e = [4.0, 1.5, 1.1, -1.0, -3.0, -4.0]
c2_pbs = [0.6, 0.4, 0, 0, 0.4, 0.6]
c2_brs_e = [4.0, 1.5, 1.1, -1.0, -3.0, -4.0]
c2_brs = [0.4, 0.3, 0, 0, 0.3, 0.4]
c2_mns_e = [0.15, -0.06, -0.26]
c2_mns = [0, 1, 0]
c2_mnp_e = [0.15, -0.06, -0.26]
c2_mnp = [0, 1.5, 0]
c2_mnd_e = [1.16, 0.99, 0.83, 0.67, 0.57, 0.47, 0.15, 0.02, -0.06, -0.18, -0.26]
c2_mnd = [0, 2, 0, 0, 3, 0, 0, 3, 9, 2, 0]
c2_os_e = [0.15, -0.06, -0.26]
c2_os = [0, 0.5, 0]
c2_op_e = [2.2, 1.8, 1.4, 0.15, -0.06, -0.26, -0.62, -0.74, -0.86, -1.03, -1.20]
c2_op = [1, 2, 0.5, 0, 2, 0, 0, 3, 5, 2, 0]

styles = {
    'Total': ('#4a4a4a', '-'),
    'Pb-s': ('#2222ee', ':'),
    'Pb-p': ('#3a3aee', '-'),
    'Br-s': ('#44aa44', ':'),
    'Br-p': ('#3c963c', '-'),
    'Mn-s': ('#f5a8f5', '-'),
    'Mn-p': ('#e040e0', ':'),
    'Mn-d': ('#cc22cc', '-'),
    'O-s': ('#e02020', ':'),
    'O-p': ('#e83030', '-'),
}

W, H = 1027, 1254
fig = plt.figure(figsize=(W / 100, H / 100), dpi=100)


def rect(x0, y0, x1, y1):
    return [x0 / W, 1 - y1 / H, (x1 - x0) / W, (y1 - y0) / H]


def add_bands(ax, bands, lw):
    # every k-segment is sampled with the same number of points, so short
    # segments look solid and long ones dotted
    for i in range(len(kdist) - 1):
        segs = [[(kdist[i], b[i]), (kdist[i + 1], b[i + 1])] for b in bands]
        period = (kdist[i + 1] - kdist[i]) / 20 * 0.72
        if period < 1.4:
            ls = '-'
        else:
            ls = (0, (1.0, period - 1.0))
        ax.add_collection(LineCollection(segs, colors='#7a7a7a', linewidths=lw,
                                         linestyles=ls, capstyle='butt'))


def draw_bands(ax, bands, bulk):
    add_bands(ax, bands, 1.4)
    add_bands(ax, bulk, 2.1)
    for k in kdist[1:-1]:
        ax.axvline(k, color='#222222', lw=0.8)
    ax.axhline(0, color='k', lw=0.8)
    ax.set_xlim(kdist[0], kdist[-1])
    ax.set_ylim(-4, 4)
    ax.set_xticks(kdist)
    ax.set_xticklabels(klabels)
    ax.set_yticks(range(-4, 5))
    ax.set_ylabel('E(eV)')


def draw_pdos(ax, curves):
    for name, e, v in curves:
        color, ls = styles[name]
        if name == 'Total':
            ax.fill_betweenx(e, 0, v, color='#bcbcbc', lw=0)
        ax.plot(v, e, color=color, ls=ls, lw=0.9, label=name)
    ax.set_xlim(0, 100)
    ax.set_ylim(-4, 4)
    ax.set_yticks(range(-4, 5))
    ax.set_yticklabels([])
    ax.set_xticks([50])
    ax.set_xticklabels(['PDOS'])
    ax.tick_params(axis='x', length=0, pad=7)
    ax.legend(loc='upper right', fontsize=9, handlelength=2.0)


panels = [
    (a1_bands, a1_bulk,
     [('Total', a1_tot_e, a1_tot), ('Pb-s', a1_pbs_e, a1_pbs), ('Pb-p', a1_pbp_e, a1_pbp),
      ('Br-s', a1_brs_e, a1_brs), ('Br-p', a1_brp_e, a1_brp)],
     (57, 373, 500, 44, 374)),
    (a2_bands, a2_bulk,
     [('Total', a2_tot_e, a2_tot), ('Pb-s', a2_pbs_e, a2_pbs), ('Pb-p', a2_pbp_e, a2_pbp),
      ('Br-s', a2_brs_e, a2_brs), ('Br-p', a2_brp_e, a2_brp), ('O-s', a2_os_e, a2_os),
      ('O-p', a2_op_e, a2_op)],
     (593, 910, 1037, 44, 374)),
    (b1_bands, b1_bulk,
     [('Total', b1_tot_e, b1_tot), ('Pb-s', b1_pbs_e, b1_pbs), ('Pb-p', b1_pbp_e, b1_pbp),
      ('Br-s', b1_brs_e, b1_brs), ('Br-p', b1_brp_e, b1_brp)],
     (57, 373, 500, 473, 803)),
    (b2_bands, b2_bulk,
     [('Total', b2_tot_e, b2_tot), ('Pb-s', b2_pbs_e, b2_pbs), ('Pb-p', b2_pbp_e, b2_pbp),
      ('Br-s', b2_brs_e, b2_brs), ('Br-p', b2_brp_e, b2_brp), ('O-s', b2_os_e, b2_os),
      ('O-p', b2_op_e, b2_op)],
     (593, 910, 1037, 473, 803)),
    (c1_bands, c1_bulk,
     [('Total', c1_tot_e, c1_tot), ('Pb-s', c1_pbs_e, c1_pbs), ('Pb-p', c1_pbp_e, c1_pbp),
      ('Br-s', c1_brs_e, c1_brs), ('Br-p', c1_brp_e, c1_brp), ('Mn-s', c1_mns_e, c1_mns),
      ('Mn-p', c1_mnp_e, c1_mnp), ('Mn-d', c1_mnd_e, c1_mnd)],
     (57, 373, 500, 903, 1232)),
    (c2_bands, c2_bulk,
     [('Total', c2_tot_e, c2_tot), ('Pb-s', c2_pbs_e, c2_pbs), ('Pb-p', c2_pbp_e, c2_pbp),
      ('Br-s', c2_brs_e, c2_brs), ('Br-p', c2_brp_e, c2_brp), ('Mn-s', c2_mns_e, c2_mns),
      ('Mn-p', c2_mnp_e, c2_mnp), ('Mn-d', c2_mnd_e, c2_mnd), ('O-s', c2_os_e, c2_os),
      ('O-p', c2_op_e, c2_op)],
     (588, 905, 1032, 903, 1232)),
]

for bands, bulk, curves, (xl, xg, xr, yt, yb) in panels:
    ax_b = fig.add_axes(rect(xl, yt, xg, yb))
    draw_bands(ax_b, bands, bulk)
    ax_d = fig.add_axes(rect(xg, yt, xr, yb))
    draw_pdos(ax_d, curves)

serif = ['Liberation Serif', 'DejaVu Serif']
titles = [
    (517, 16, '(a) defect-free CsPbBr₃ surface'),
    (517, 436, '(b) CsPbBr₃ surface with Br vacancy'),
    (520, 858, '(c) Mn-doped CsPbBr₃ surface'),
]
for x, y, t in titles:
    fig.text(x / W, 1 - y / H, t, ha='center', va='center', fontsize=20, family=serif)

fig.savefig('out.png', dpi=100)
